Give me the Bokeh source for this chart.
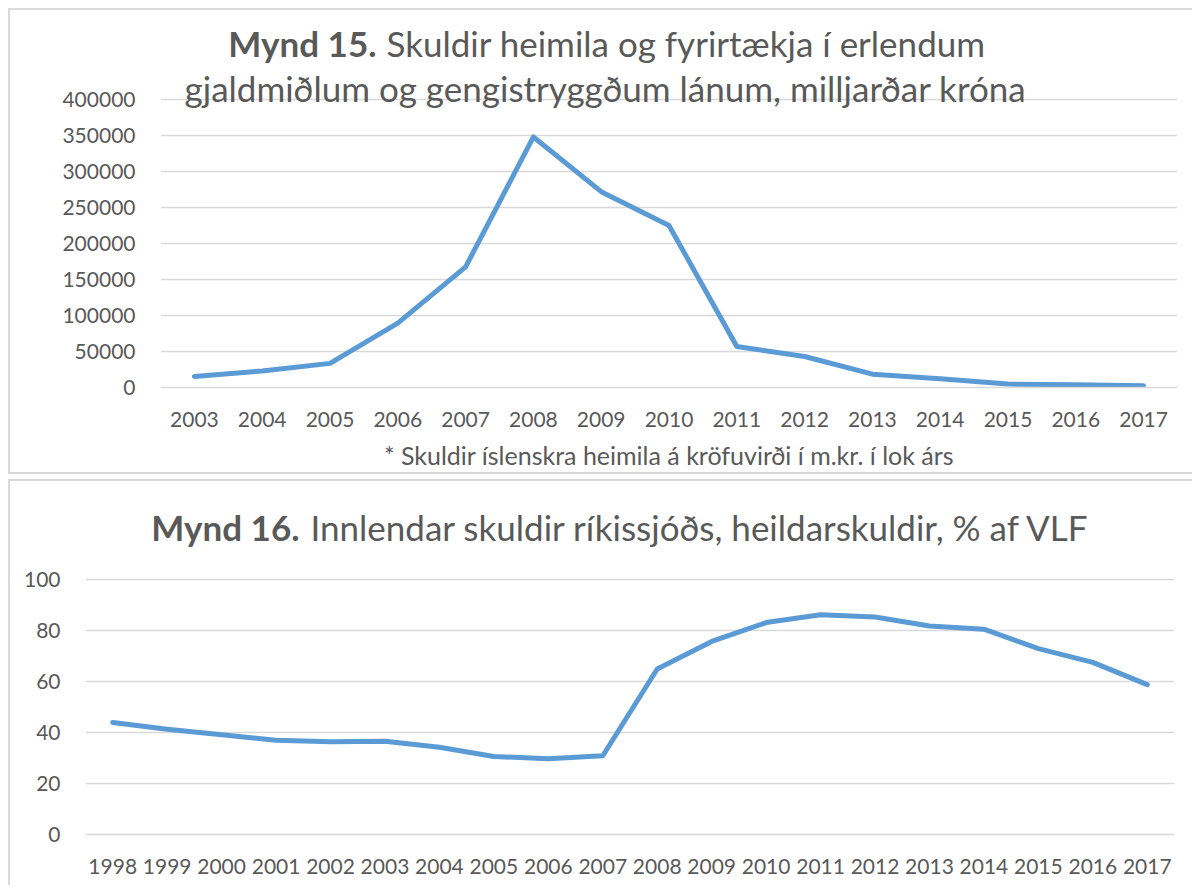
from bokeh.plotting import figure
from bokeh.models import Label, FactorRange, Range1d, FixedTicker, NumeralTickFormatter
from bokeh.embed import file_html
from bokeh.resources import INLINE

# ---- data ----
years1 = ["2003", "2004", "2005", "2006", "2007", "2008", "2009", "2010",
          "2011", "2012", "2013", "2014", "2015", "2016", "2017"]
debt1 = [15400, 23000, 33500, 89500, 167500, 348000, 272000, 225000,
         57000, 43000, 18500, 12000, 4700, 3700, 2500]
yticks1 = [0, 50000, 100000, 150000, 200000, 250000, 300000, 350000, 400000]

years2 = ["1998", "1999", "2000", "2001", "2002", "2003", "2004", "2005", "2006", "2007",
          "2008", "2009", "2010", "2011", "2012", "2013", "2014", "2015", "2016", "2017"]
debt2 = [43.9, 41.3, 39.1, 37.0, 36.4, 36.6, 34.2, 30.6, 29.7, 30.9,
         64.9, 75.7, 83.1, 86.2, 85.3, 81.8, 80.5, 72.9, 67.5, 58.8]
yticks2 = [0, 20, 40, 60, 80, 100]

title1_bold = "Mynd 15."
title1_rest = "Skuldir heimila og fyrirtækja í erlendum"
title1_line2 = "gjaldmiðlum og gengistryggðum lánum, milljarðar króna"
note1 = "* Skuldir íslenskra heimila á kröfuvirði í m.kr. í lok árs"
title2_bold = "Mynd 16."
title2_rest = "Innlendar skuldir ríkissjóðs, heildarskuldir, % af VLF"

FONT = "Lato"
TXT = "#595959"
GRID = "#D9D9D9"
BLUE = "#5B9BD5"
TICK_SIZE = "21px"
NOTE_SIZE = "25px"
TITLE_SIZE = "35px"
BORDER = "2px solid #D9D9D9"
LINE_W = 5


def base_fig(factors, ymax, yticks, width, height, left, right, top, bottom):
    p = figure(x_range=FactorRange(*factors, range_padding=0),
               y_range=Range1d(0, ymax),
               width=width, height=height, output_backend="svg",
               toolbar_location=None, title=None,
               min_border_left=left, min_border_right=right,
               min_border_top=top, min_border_bottom=bottom)
    p.outline_line_color = None
    p.background_fill_color = "white"
    p.border_fill_color = "white"
    p.xgrid.grid_line_color = None
    p.ygrid.grid_line_color = GRID
    p.ygrid.grid_line_width = 1.5
    p.yaxis.ticker = FixedTicker(ticks=yticks)
    for ax in (p.xaxis[0], p.yaxis[0]):
        ax.major_label_text_font = FONT
        ax.major_label_text_font_size = TICK_SIZE
        ax.major_label_text_color = TXT
        ax.major_tick_line_color = None
        ax.minor_tick_line_color = None
    p.yaxis.axis_line_color = None
    p.xaxis.axis_line_color = GRID
    p.xaxis.axis_line_width = 1.5
    return p


def add_label(p, x, y, text, align, bold=False):
    lab = Label(x=x, y=y, text=text, text_align=align, text_baseline="middle",
                text_font=FONT, text_font_size=TITLE_SIZE, text_color=TXT,
                text_font_style="bold" if bold else "normal")
    p.add_layout(lab)


# ---- chart 1 (frame extended upward to hold the title; ticks stop at 400000) ----
top1_px = 15.0
ymax1 = 400000 * (387.0 - top1_px) / 288.0
p1 = base_fig(years1, ymax1, yticks1, 1184, 466, 150, 17, 5, 89)
p1.styles = {"border-top": BORDER, "border-left": BORDER, "border-bottom": BORDER}
p1.margin = (8, 0, 0, 8)
p1.yaxis.formatter = NumeralTickFormatter(format="0")
p1.yaxis.major_label_standoff = 19
p1.xaxis.major_label_standoff = 18
p1.xaxis.axis_label = note1
p1.xaxis.axis_label_text_font = FONT
p1.xaxis.axis_label_text_font_size = NOTE_SIZE
p1.xaxis.axis_label_text_font_style = "normal"
p1.xaxis.axis_label_text_color = TXT
p1.xaxis.axis_label_standoff = 10
p1.line(years1, debt1, line_color=BLUE, line_width=LINE_W,
        line_cap="round", line_join="round")

n1 = len(years1)
fw1 = 1017.0


def dx1(px):
    return (px - 160.0) / fw1 * n1


def dy1(py):
    return (387.0 - py) / 288.0 * 400000


add_label(p1, dx1(376), dy1(42), title1_bold, "right", bold=True)
add_label(p1, dx1(386), dy1(42), title1_rest, "left")
add_label(p1, dx1(605), dy1(87), title1_line2, "center")

# ---- chart 2 ----
top2_px = 500.0
ymax2 = 100 * (835.0 - top2_px) / 255.0
p2 = base_fig(years2, ymax2, yticks2, 1184, 406, 75, 20, 18, 53)
p2.styles = {"border-top": BORDER, "border-left": BORDER}
p2.margin = (5, 0, 0, 8)
p2.yaxis.major_label_standoff = 19
p2.xaxis.major_label_standoff = 18
p2.line(years2, debt2, line_color=BLUE, line_width=LINE_W,
        line_cap="round", line_join="round")

n2 = len(years2)
fw2 = 1089.0


def dx2(px):
    return (px - 85.0) / fw2 * n2


def dy2(py):
    return (835.0 - py) / 255.0 * 100


add_label(p2, dx2(299), dy2(527), title2_bold, "right", bold=True)
add_label(p2, dx2(310), dy2(527), title2_rest, "left")

open("out.html", "w").write(file_html([p1, p2], INLINE))
